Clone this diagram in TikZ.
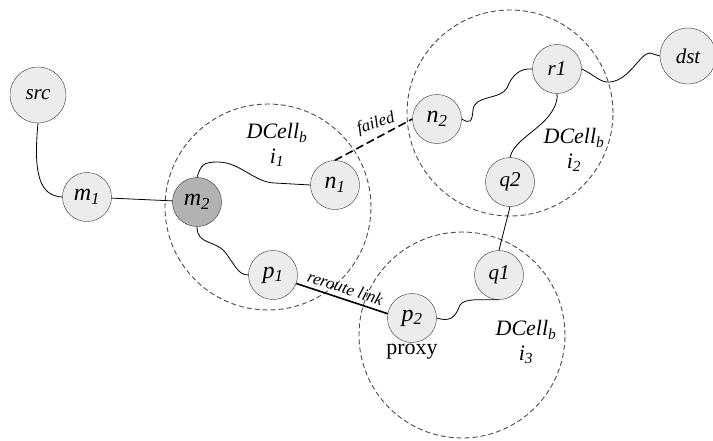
\documentclass[tikz,border=0pt]{standalone}
\usepackage{fontspec}
\setmainfont{Liberation Serif}
\usetikzlibrary{positioning,calc}
\tikzset{
  host/.style  = {shape=circle, draw=black!80, inner sep=0pt,
                  minimum size=49pt, fill=gray!15,
                  font=\fontsize{24}{24}\selectfont\itshape},
  word/.style  = {host, font=\fontsize{21}{21}\selectfont\itshape},
  edge/.style  = {word, minimum size=56pt},
  busy/.style  = {host, fill=gray!60},
  cell/.style  = {shape=circle, draw, dash pattern=on 5pt off 3pt,
                  line width=0.9pt, minimum size=206pt, gray!60!black},
  wire/.style  = {draw, line width=0.8pt},
  failed/.style= {draw, line width=1.6pt, dash pattern=on 8pt off 4pt},
  reroute/.style={draw, line width=1.6pt},
  tag/.style   = {font=\fontsize{17}{17}\selectfont\itshape},
  cname/.style = {align=center, font=\fontsize{22}{25}\selectfont\itshape}
}
\newcommand{\nd}[2]{#1\textsubscript{#2}}

\begin{document}
\begin{tikzpicture}[x=1pt, y=-1pt]
\useasboundingbox (0,0) rectangle (713,440);

\node [cell] (c1) at (268,207) {};
\node [cell] (c2) at (510,113) {};
\node [cell] (c3) at (462,335) {};

\node [edge] (src) at (38,95)  {src};
\node [edge] (dst) at (688,56) {dst};
\node [host] (m1)  at (87,197)  {\nd{m}{1}};
\node [busy] (m2)  at (197,202) {\nd{m}{2}};
\node [host] (n1)  at (335,185) {\nd{n}{1}};
\node [host] (p1)  at (273,275) {\nd{p}{1}};
\node [host] (n2)  at (437,119) {\nd{n}{2}};
\node [word] (r1)  at (557,69)  {r1};
\node [word] (q2)  at (510,182) {q2};
\node [word] (q1)  at (499,275) {q1};
\node [host] (p2)  at (412,318) {\nd{p}{2}};

\node [cname] (l1) at (277,145) {\nd{DCell}{b}\\\nd{i}{1}};
\node [cname] (l2) at (574,150) {\nd{DCell}{b}\\\nd{i}{2}};
\node [cname] (l3) at (526,342) {\nd{DCell}{b}\\\nd{i}{3}};
\node [font=\fontsize{22}{22}\selectfont, below=-2pt of p2] (px) {proxy};
\node [tag, rotate=18] (fl) at (376,124) {failed};

\draw [wire] (src.south) .. controls (33,175) and (40,196) .. (m1.west);
\draw [wire] (m1) -- (m2);
\draw [wire] (m2.north) .. controls (201,165) and (203,162) .. (218,162)
  .. controls (240,162) and (255,183) .. (275,183) -- (n1.west);
\draw [wire] (m2.south) .. controls (197,245) and (215,240) .. (225,252)
  .. controls (235,265) and (238,275) .. (p1.west);
\draw [failed] (n1.north) -- (n2.west);
\draw [wire] (n2.east) .. controls (470,124) and (472,122) .. (473,110)
  .. controls (474,95) and (500,100) .. (507,88)
  .. controls (512,75) and (520,68) .. (r1.west);
\draw [wire] (r1.east) .. controls (595,75) and (600,83) .. (610,82)
  .. controls (630,80) and (640,53) .. (650,53) -- (dst.west);
\draw [wire] (r1.south) .. controls (558,100) and (555,112) .. (540,125)
  .. controls (525,138) and (513,145) .. (q2.north);
\draw [wire] (q2.south) -- (q1.north);
\draw [wire] (q1.south) .. controls (480,300) and (465,298) .. (460,305)
  .. controls (455,318) and (450,322) .. (p2.east);
\draw [reroute] (p1.-20) -- (p2.170)
  node [tag, midway, above=1pt, sloped] {reroute link};
\end{tikzpicture}
\end{document}
